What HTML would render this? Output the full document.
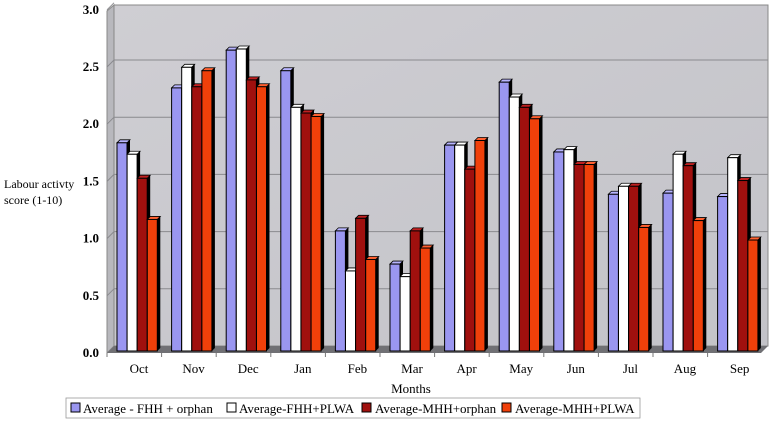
<!DOCTYPE html>
<html><head><meta charset="utf-8"><style>
html,body{margin:0;padding:0;background:#fff;width:774px;height:422px;overflow:hidden}
svg{display:block;font-family:"Liberation Serif",serif}
</style></head><body>
<svg id="c" width="774" height="422" viewBox="0 0 774 422" xmlns="http://www.w3.org/2000/svg">
<defs>
<linearGradient id="wall" x1="0" y1="0" x2="1" y2="1">
<stop offset="0" stop-color="#cfced3"/><stop offset="1" stop-color="#c3c3c8"/>
</linearGradient>
</defs>
<polygon points="114,5 768,5 768,346 114,346" fill="url(#wall)" stroke="#888" stroke-width="1"/>
<polygon points="107,11 114,5 114,346 107,353" fill="#b8b8bd" stroke="#888" stroke-width="1"/>
<polygon points="107,353 114,346 768,346 761,353" fill="#707074"/>
<g id="grid" stroke="#8a8a8e" stroke-width="1"></g>
<g font-size="13" font-weight="bold" fill="#000" text-anchor="end" id="yl"></g>
<g id="bars"></g>
<g font-size="13" fill="#000" text-anchor="middle" id="xl"></g>
<text x="411" y="393" font-size="13" text-anchor="middle">Months</text>
<text x="4" y="188" font-size="12">Labour activty</text>
<text x="4" y="204" font-size="12">score (1-10)</text>
<rect x="66" y="398" width="574" height="20" fill="#fff" stroke="#999" stroke-width="0.8"/>
<g font-size="13">
<rect x="71" y="403" width="9" height="9" fill="#9a96f0" stroke="#000"/><text x="83" y="413">Average - FHH + orphan</text>
<rect x="227" y="403" width="9" height="9" fill="#fff" stroke="#000"/><text x="239" y="413">Average-FHH+PLWA</text>
<rect x="362" y="403" width="9" height="9" fill="#a0100e" stroke="#000"/><text x="375" y="413">Average-MHH+orphan</text>
<rect x="502" y="403" width="9" height="9" fill="#f0400a" stroke="#000"/><text x="515" y="413">Average-MHH+PLWA</text>
</g>
</svg>
<script>
var ns="http://www.w3.org/2000/svg";
function el(t,a,p){var e=document.createElementNS(ns,t);for(var k in a)e.setAttribute(k,a[k]);if(p)p.appendChild(e);return e;}
var S=114.4,Z=353;
var grid=document.getElementById('grid'),yl=document.getElementById('yl');
for(var i=0;i<=6;i++){var v=i*0.5,y=Z-v*S;
 if(i>0&&i<6) el('line',{x1:114,y1:y-7,x2:768,y2:y-7},grid);
 if(i>0) el('line',{x1:107,y1:y,x2:114,y2:y-7},grid);
 var t=el('text',{x:99,y:y+4},yl);t.textContent=v.toFixed(1);}
var months=["Oct","Nov","Dec","Jan","Feb","Mar","Apr","May","Jun","Jul","Aug","Sep"];
var data=[[1.82,1.72,1.51,1.15],[2.30,2.48,2.31,2.45],[2.63,2.64,2.37,2.31],[2.45,2.13,2.08,2.05],[1.05,0.70,1.16,0.80],[0.76,0.65,1.05,0.90],[1.80,1.80,1.59,1.84],[2.35,2.22,2.13,2.03],[1.74,1.76,1.63,1.63],[1.37,1.44,1.44,1.08],[1.38,1.72,1.62,1.14],[1.35,1.69,1.49,0.97]];
var cols=["#9a96f0","#ffffff","#a0100e","#f0400a"];
var tops=["#b8b5ff","#ffffff","#c02020","#ff6030"];
var bars=document.getElementById('bars'),xl=document.getElementById('xl');
var step=54.6,w=10,d=3;
for(var m=0;m<12;m++){
 var gx=117+m*step;
 for(var s=0;s<4;s++){
  var x=gx+s*10.1,h=data[m][s]*S,yb=351,yt=yb-h;
  el('polygon',{points:(x+w)+","+yt+" "+(x+w+d)+","+(yt-d)+" "+(x+w+d)+","+(yb-d)+" "+(x+w)+","+yb,fill:"#000"},bars);
  el('polygon',{points:x+","+yt+" "+(x+d)+","+(yt-d)+" "+(x+w+d)+","+(yt-d)+" "+(x+w)+","+yt,fill:tops[s],stroke:"#000","stroke-width":0.8},bars);
  el('rect',{x:x,y:yt,width:w,height:yb-yt,fill:cols[s],stroke:"#000","stroke-width":1},bars);
 }
 var t=el('text',{x:gx+22,y:373},xl);t.textContent=months[m];
 el('line',{x1:107+m*step,y1:353,x2:107+m*step,y2:357,stroke:"#777"},bars);
}
</script>
</body></html>
